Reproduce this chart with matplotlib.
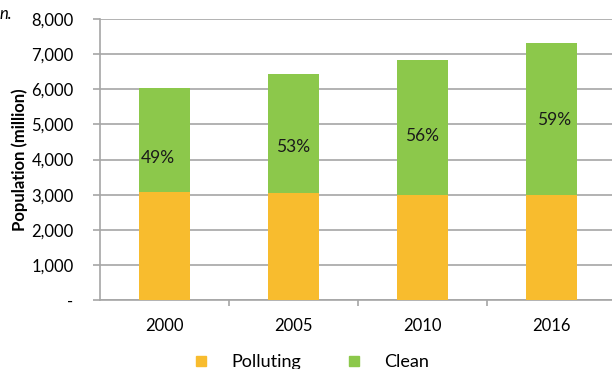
import matplotlib
matplotlib.use("Agg")
import matplotlib.pyplot as plt
from matplotlib.lines import Line2D
import numpy as np

plt.rcParams['font.family'] = ['Lato', 'DejaVu Sans']

years = ["2000", "2005", "2010", "2016"]
polluting = [3070, 3050, 2990, 2990]
totals = [6040, 6440, 6840, 7330]
clean = [t - p for t, p in zip(totals, polluting)]
pct_labels = ["49%", "53%", "56%", "59%"]
pct_label_y = [4050, 4360, 4670, 5130]
pct_label_dx = [-0.05, 0.0, 0.0, 0.02]
yticks = [0, 1000, 2000, 3000, 4000, 5000, 6000, 7000, 8000]
ytick_labels = ["-", "1,000", "2,000", "3,000", "4,000", "5,000", "6,000", "7,000", "8,000"]

yellow = "#F8BC2E"
green = "#8CC84B"
grid_c = "#A6A6A6"

fig = plt.figure(figsize=(6.12, 3.69), dpi=100)
ax = fig.add_axes([100/612, 1-300/369, 516/612, 281/369])

x = np.arange(len(years))
w = 0.4
ax.bar(x, polluting, w, color=yellow, zorder=3)
ax.bar(x, clean, w, bottom=polluting, color=green, zorder=3)

for xi, lab, ly, dx in zip(x, pct_labels, pct_label_y, pct_label_dx):
    ax.text(xi + dx, ly, lab, ha='center', va='center', fontsize=12.5, color='#1a1a1a', zorder=4)

ax.set_xlim(-0.5, 3.5)
ax.set_ylim(0, 8000)
ax.set_yticks(yticks)
ax.set_yticklabels(ytick_labels, fontsize=12)
ax.set_xticks(x)
ax.set_xticklabels(years, fontsize=12)
ax.set_xticks([0.5, 1.5, 2.5], minor=True)
ax.tick_params(axis='x', which='major', length=0, pad=13)
ax.tick_params(axis='x', which='minor', length=4, color=grid_c, width=1.2)
ax.tick_params(axis='y', length=5, color=grid_c, width=1.2, pad=14)
ax.yaxis.grid(True, color=grid_c, linewidth=1.2, zorder=0)
for s in ['top', 'right']:
    ax.spines[s].set_visible(False)
for s in ['left', 'bottom']:
    ax.spines[s].set_color(grid_c)
    ax.spines[s].set_linewidth(1.2)

ax.set_ylabel("Population (million)", fontsize=12, fontweight='bold')
ax.yaxis.set_label_coords(-0.14, 0.5)

fig.text(0.0, 1-14/369, "n.", fontsize=12, style='italic', ha='left', va='center')

handles = [Line2D([], [], marker='s', linestyle='none', color=yellow, markersize=7),
           Line2D([], [], marker='s', linestyle='none', color=green, markersize=7)]
fig.legend(handles, ["Polluting", "Clean"], loc='center', bbox_to_anchor=(306/612, 1-362/369),
           ncol=2, frameon=False, fontsize=13, columnspacing=1.9, handletextpad=0.7)

fig.savefig("out.png", dpi=100)
